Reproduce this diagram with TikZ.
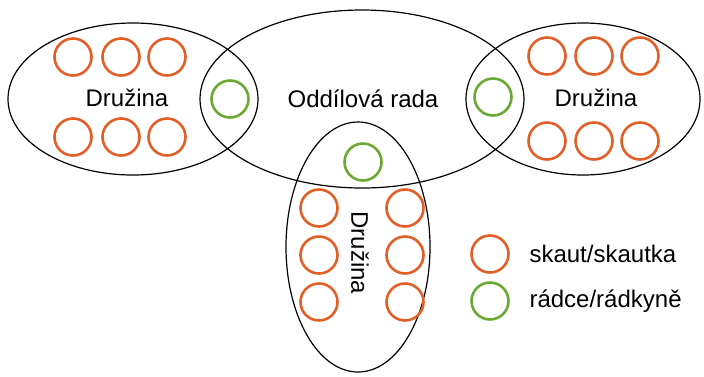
\documentclass[tikz,border=0pt]{standalone}
\usepackage{fontspec}
\setmainfont{Liberation Sans}
\usetikzlibrary{shapes.geometric}
\definecolor{skautorange}{RGB}{226,96,40}
\definecolor{radcegreen}{RGB}{106,170,52}
\begin{document}
\begin{tikzpicture}[x=1pt,y=-1pt,
	every node/.style={font=\fontsize{24}{28}\selectfont},
	skupina/.style={ellipse,draw,line width=1.2pt,inner sep=0},
	skaut/.style={circle,draw=skautorange,line width=2.6pt,minimum size=37pt,inner sep=0},
	radce/.style={circle,draw=radcegreen,line width=2.6pt,minimum size=37pt,inner sep=0}]
\useasboundingbox (0,0) rectangle (704,376);
% skupiny
\node[skupina,minimum width=250pt,minimum height=152pt] (levá) at (133,99) {};
\node[skupina,minimum width=324pt,minimum height=178pt] (rada) at (362,99) {};
\node[skupina,minimum width=234pt,minimum height=152pt] (pravá) at (583,99) {};
\node[skupina,minimum width=144pt,minimum height=250pt] (dolní) at (358,247) {};
% popisky
\node (t-levá) at (127,98) {Družina};
\node (t-rada) at (363,99) {Oddílová rada};
\node (t-pravá) at (596,98) {Družina};
\node[rotate=-90] (t-dolní) at (360,253) {Družina};
% leva druzina
\foreach \x [count=\i] in {73,121,167} {
	\node[skaut] (L1\i) at (\x,57) {};
	\node[skaut] (L2\i) at (\x,137) {};
}
\node[radce] (rL) at (230,99) {};
% prava druzina
\foreach \x [count=\i] in {547,594,640} {
	\node[skaut] (P1\i) at (\x,56) {};
	\node[skaut] (P2\i) at (\x,141) {};
}
\node[radce] (rP) at (493,97) {};
% dolni druzina
\foreach \y [count=\i] in {208,255,302} {
	\node[skaut] (D1\i) at (319,\y) {};
	\node[skaut] (D2\i) at (405,\y) {};
}
\node[radce] (rD) at (363,162) {};
% legenda
\node[skaut] (leg-skaut) at (490,254) {};
\node[radce] (leg-radce) at (490,301) {};
\node[anchor=west] (t-skaut) at (526,254) {skaut/skautka};
\node[anchor=west] (t-radce) at (526,301) {rádce/rádkyně};
\end{tikzpicture}
\end{document}
